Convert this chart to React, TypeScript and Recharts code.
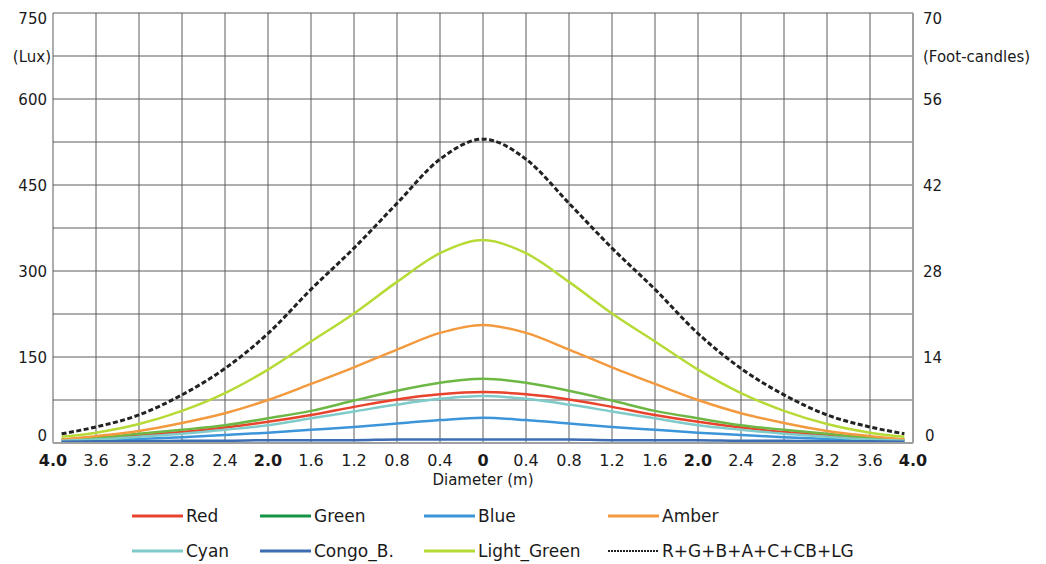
import React from 'react';
import {
  LineChart,
  Line,
  XAxis,
  YAxis,
  CartesianGrid,
  Legend,
} from 'recharts';

// Diameter positions (m), left side negative
const positions = [
  -3.92, -3.6, -3.2, -2.8, -2.4, -2.0, -1.6, -1.2, -0.8, -0.4, 0,
  0.4, 0.8, 1.2, 1.6, 2.0, 2.4, 2.8, 3.2, 3.6, 3.92,
];

// Illuminance in lux
const red = [5, 9, 13, 19, 27, 37, 49, 63, 76, 85, 89, 85, 76, 63, 49, 37, 27, 19, 13, 9, 5];
const green = [6, 9, 16, 23, 31, 43, 56, 74, 91, 105, 112, 105, 91, 74, 56, 43, 31, 23, 16, 9, 6];
const blue = [3, 5, 7, 10, 14, 18, 23, 28, 34, 40, 44, 40, 34, 28, 23, 18, 14, 10, 7, 5, 3];
const amber = [6, 12, 21, 35, 52, 75, 103, 132, 163, 192, 206, 192, 163, 132, 103, 75, 52, 35, 21, 12, 6];
const cyan = [4, 6, 11, 16, 23, 31, 43, 55, 67, 77, 82, 77, 67, 55, 43, 31, 23, 16, 11, 6, 4];
const congo = [2, 3, 3, 4, 4, 5, 5, 5, 6, 6, 6, 6, 6, 5, 5, 5, 4, 4, 3, 3, 2];
const lightGreen = [11, 18, 33, 56, 87, 128, 177, 226, 281, 331, 354, 331, 281, 226, 177, 128, 87, 56, 33, 18, 11];
const total = [16, 28, 49, 84, 130, 191, 268, 340, 418, 495, 530, 495, 418, 340, 268, 191, 130, 84, 49, 28, 16];

const xTicks = [
  -4, -3.6, -3.2, -2.8, -2.4, -2, -1.6, -1.2, -0.8, -0.4, 0,
  0.4, 0.8, 1.2, 1.6, 2, 2.4, 2.8, 3.2, 3.6, 4,
];
const luxTicks = [0, 75, 150, 225, 300, 375, 450, 525, 600, 675, 750];
const fcTicks = [0, 7, 14, 21, 28, 35, 42, 49, 56, 63, 70];

const series = [
  { key: 'red', name: 'Red', color: '#e8432d', legendColor: '#e8432d' },
  { key: 'green', name: 'Green', color: '#6db845', legendColor: '#139447' },
  { key: 'blue', name: 'Blue', color: '#3d95d9', legendColor: '#3d95d9' },
  { key: 'amber', name: 'Amber', color: '#f39a3e', legendColor: '#f39a3e' },
  { key: 'cyan', name: 'Cyan', color: '#7ecbc9', legendColor: '#7ecbc9' },
  { key: 'congo', name: 'Congo_B.', color: '#3c6db3', legendColor: '#3c6db3' },
  { key: 'lightGreen', name: 'Light_Green', color: '#b6da36', legendColor: '#b6da36' },
  { key: 'total', name: 'R+G+B+A+C+CB+LG', color: '#222222', legendColor: '#222222', dashed: true },
];

const data = positions.map((x, i) => ({
  x,
  red: red[i],
  green: green[i],
  blue: blue[i],
  amber: amber[i],
  cyan: cyan[i],
  congo: congo[i],
  lightGreen: lightGreen[i],
  total: total[i],
}));

const FONT = '"DejaVu Sans", Verdana, sans-serif';

function XTick(props: any) {
  const { x, payload } = props;
  const v = payload.value;
  const a = Math.abs(v);
  const label = a < 1e-9 ? '0' : a.toFixed(1);
  const bold = a < 1e-9 || Math.abs(a - 2) < 1e-9 || Math.abs(a - 4) < 1e-9;
  return (
    <text
      x={x}
      y={466}
      textAnchor="middle"
      fontFamily={FONT}
      fontSize={16}
      fontWeight={bold ? 'bold' : 'normal'}
      fill="#1a1a1a"
    >
      {label}
    </text>
  );
}

function LuxTick(props: any) {
  const { y, payload } = props;
  const v = payload.value;
  let label = '';
  if (v === 675) label = '(Lux)';
  else if (v % 150 === 0) label = String(v);
  if (!label) return null;
  const top = v === 750;
  return (
    <text
      x={v === 675 ? 51 : 47}
      y={top ? y + 11 : v === 0 ? y - 2 : y + 6}
      textAnchor="end"
      fontFamily={FONT}
      fontSize={15}
      fill="#1a1a1a"
    >
      {label}
    </text>
  );
}

function FcTick(props: any) {
  const { y, payload } = props;
  const v = payload.value;
  let label = '';
  if (v === 63) label = '(Foot-candles)';
  else if (v % 14 === 0) label = String(v);
  if (!label) return null;
  const top = v === 70;
  return (
    <text
      x={v === 0 ? 925 : 923}
      y={top ? y + 11 : v === 0 ? y - 2 : y + 6}
      textAnchor="start"
      fontFamily={FONT}
      fontSize={15}
      fill="#1a1a1a"
    >
      {label}
    </text>
  );
}

// two rows of four, like the original key
function LegendBox() {
  const cols = [132, 260, 424, 608];
  const rows = [21, 56];
  return (
    <svg width={1046} height={70}>
      {series.map((s, i) => {
        const cx = cols[i % 4];
        const cy = rows[Math.floor(i / 4)];
        return (
          <g key={s.key}>
            <line
              x1={cx}
              x2={cx + 51}
              y1={cy}
              y2={cy}
              stroke={s.legendColor}
              strokeWidth={s.dashed ? 2 : 3}
              strokeDasharray={s.dashed ? '2 1' : undefined}
            />
            <text
              x={cx + 54}
              y={cy + 6}
              fontFamily={FONT}
              fontSize={17}
              fill="#1a1a1a"
            >
              {s.name}
            </text>
          </g>
        );
      })}
    </svg>
  );
}

export default function App() {
  return (
    <div style={{ position: 'absolute', left: 0, top: 0, background: '#fff' }}>
      <LineChart
        width={1046}
        height={564}
        data={data}
        margin={{ top: 13, right: 0, left: 0, bottom: 77 }}
      >
        <CartesianGrid yAxisId="lux" stroke="#5c5c5c" strokeWidth={1} />
        <XAxis
          dataKey="x"
          type="number"
          domain={[-4, 4]}
          ticks={xTicks}
          tick={<XTick />}
          tickLine={false}
          axisLine={{ stroke: '#a0a0a0', strokeWidth: 2 }}
          height={44}
          interval={0}
          label={{
            value: 'Diameter (m)',
            position: 'insideBottom',
            offset: 2,
            style: { fontFamily: FONT, fontSize: 15, fill: '#1a1a1a' },
          }}
        />
        <YAxis
          yAxisId="lux"
          domain={[0, 750]}
          ticks={luxTicks}
          tick={<LuxTick />}
          tickLine={false}
          axisLine={false}
          width={53}
          interval={0}
        />
        <YAxis
          yAxisId="fc"
          orientation="right"
          type="number"
          domain={[0, 70]}
          allowDataOverflow
          ticks={fcTicks}
          tick={<FcTick />}
          tickLine={false}
          axisLine={{ stroke: '#a0a0a0', strokeWidth: 2 }}
          width={133}
          interval={0}
        />
        <Legend
          layout="horizontal"
          verticalAlign="middle"
          align="center"
          content={<LegendBox />}
          wrapperStyle={{ top: 495, left: 0, width: 1046, height: 70 }}
        />
        {series.map((s) => (
          <Line
            key={s.key}
            yAxisId="lux"
            type="monotone"
            dataKey={s.key}
            name={s.name}
            stroke={s.color}
            strokeWidth={s.dashed ? 3 : 2.5}
            strokeDasharray={s.dashed ? '5 2.5' : undefined}
            dot={false}
            activeDot={false}
            isAnimationActive={false}
          />
        ))}
      </LineChart>
    </div>
  );
}
